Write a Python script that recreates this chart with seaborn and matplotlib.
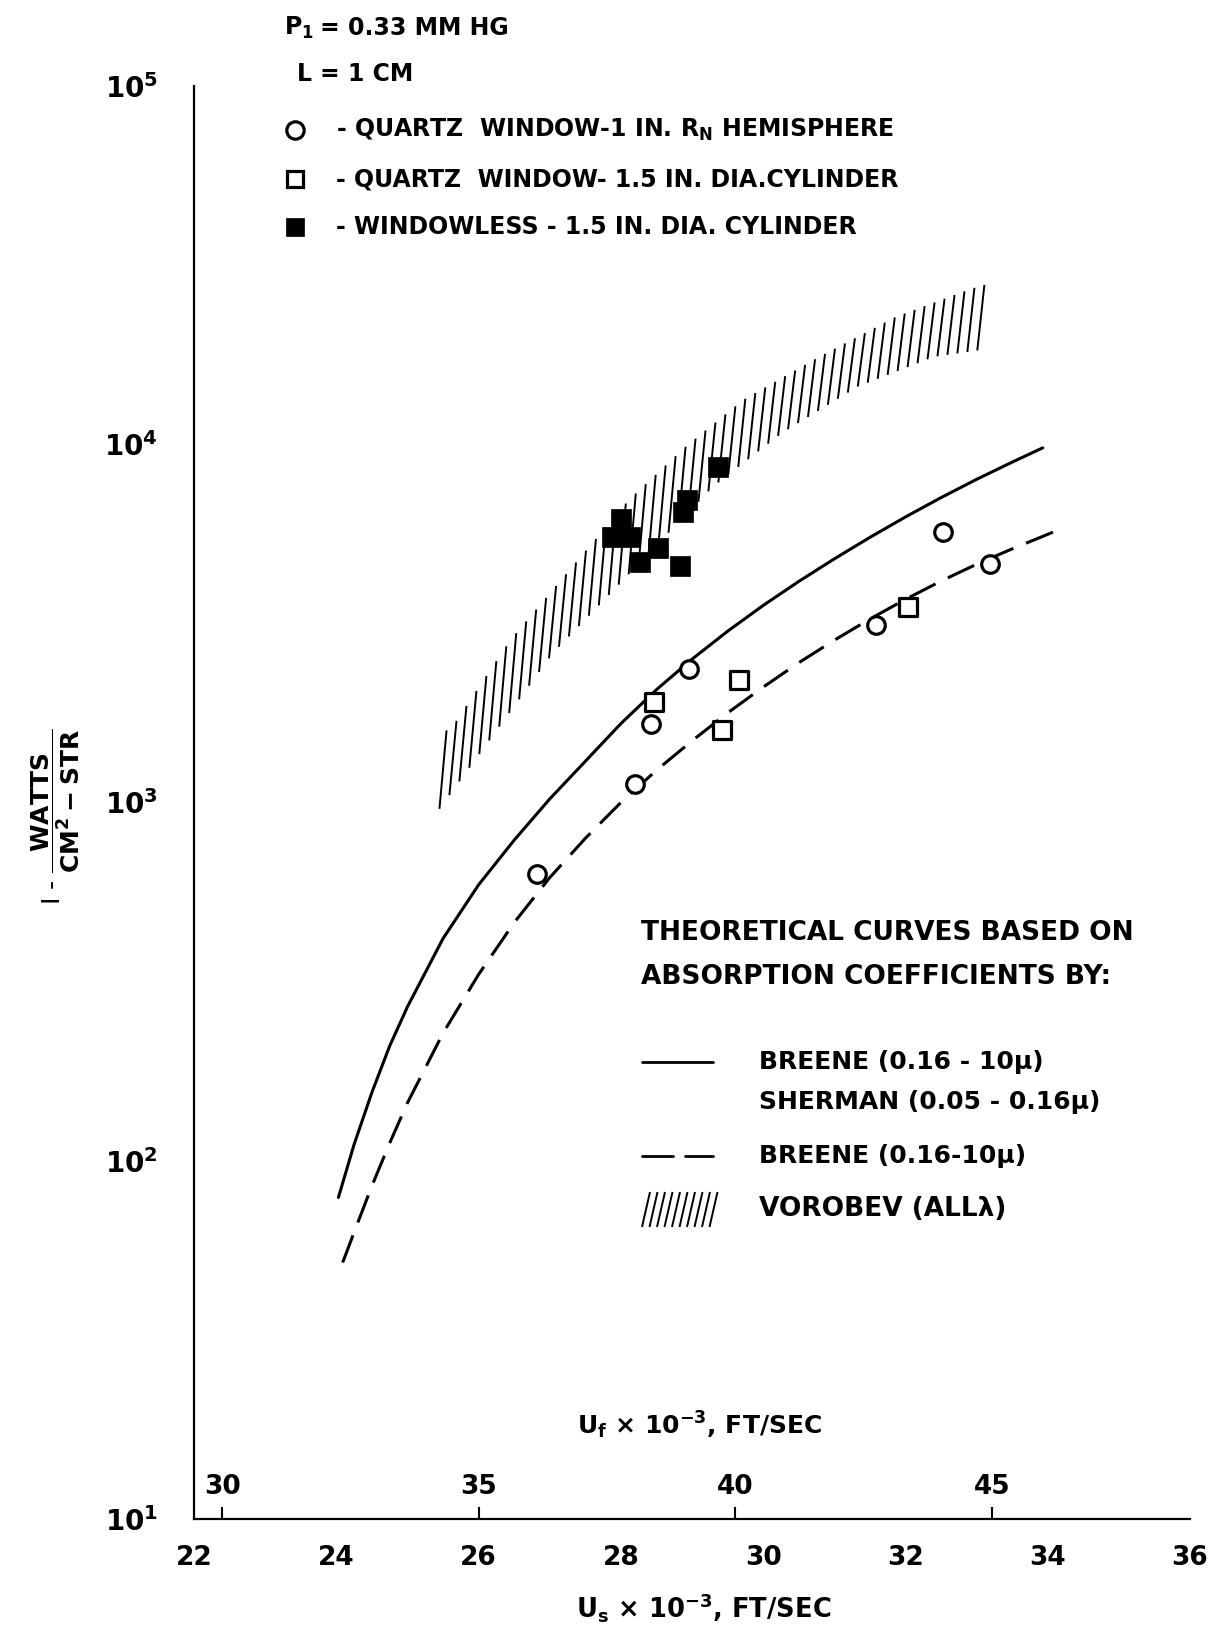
import numpy as np
import matplotlib
matplotlib.use("Agg")
import matplotlib.pyplot as plt
from matplotlib.lines import Line2D
from matplotlib.collections import LineCollection
import seaborn as sns

# ---------------- data ----------------
# Quartz window, 1 in. nose-radius hemisphere (open circles)
hemi_us = [26.82, 28.20, 28.42, 28.96, 31.58, 32.53, 33.19]
hemi_I = [630, 1124, 1654, 2362, 3130, 5700, 4632]

# Quartz window, 1.5 in. dia. cylinder (open squares)
cyl_us = [28.46, 29.42, 29.66, 32.03]
cyl_I = [1910, 1594, 2198, 3506]

# Windowless, 1.5 in. dia. cylinder (filled squares)
wl_us = [27.88, 28.00, 28.13, 28.27, 28.52, 28.83, 28.87, 28.93, 29.36]
wl_I = [5510, 6200, 5510, 4690, 5135, 4570, 6470, 6990, 8640]

# Breene (0.16-10 mu) + Sherman (0.05-0.16 mu), solid curve
solid_us = [24.03, 24.25, 24.5, 24.75, 25.0, 25.5, 26.0, 26.5, 27.0, 27.5,
            28.0, 28.5, 29.0, 29.5, 30.0, 30.5, 31.0, 31.5, 32.0, 32.5,
            33.0, 33.5, 33.93]
solid_I = [79, 111, 155, 209, 269, 417, 589, 785, 1023, 1303,
           1660, 2065, 2512, 3006, 3548, 4140, 4786, 5495, 6266, 7096,
           7980, 8913, 9772]

# Breene (0.16-10 mu) only, dashed curve
dash_us = [24.09, 24.3, 24.5, 24.75, 25.0, 25.5, 26.0, 26.5, 27.0, 27.5,
           28.0, 28.5, 29.0, 29.5, 30.0, 30.5, 31.0, 31.5, 32.0, 32.5,
           33.0, 33.5, 34.08]
dash_I = [52, 67, 85, 112, 145, 227, 331, 462, 617, 794,
          1000, 1230, 1486, 1778, 2099, 2455, 2838, 3251, 3690, 4150,
          4624, 5105, 5689]

# Vorobev (all lambda) band limits
vor_lo_us = [25.45, 27.04, 29.29, 30.26, 31.33, 32.40, 33.05]
vor_lo_I = [960, 2606, 7600, 10740, 14490, 17540, 18320]
vor_hi_us = [25.60, 26.45, 28.11, 28.91, 29.72, 30.79, 31.87, 32.94, 33.15]
vor_hi_I = [1590, 2844, 6980, 9840, 13300, 17540, 22700, 27230, 28000]

# axes ticks
us_ticks = [22, 24, 26, 28, 30, 32, 34, 36]
y_ticks = [1e1, 1e2, 1e3, 1e4, 1e5]
uf_ticks = [30, 35, 40, 45]
uf_at_us = [22.40, 26.00, 29.60, 33.22]

# ---------------- style ----------------
sns.set_style("white")
plt.rcParams["font.family"] = ["DejaVu Sans"]
plt.rcParams["font.weight"] = "bold"
plt.rcParams["text.color"] = "black"
plt.rcParams["axes.labelcolor"] = "black"
plt.rcParams["xtick.color"] = "black"
plt.rcParams["ytick.color"] = "black"
plt.rcParams["mathtext.fontset"] = "custom"
plt.rcParams["mathtext.rm"] = "DejaVu Sans:bold"
plt.rcParams["mathtext.it"] = "DejaVu Sans:bold"
plt.rcParams["mathtext.bf"] = "DejaVu Sans:bold"
plt.rcParams["mathtext.default"] = "rm"

W, H = 1216, 1629
fig = plt.figure(figsize=(W / 100, H / 100), dpi=100)
fig.patch.set_facecolor("white")


def fx(px):
    return px / W


def fy(py):
    return 1 - py / H


ax = fig.add_axes([fx(194), fy(1519), fx(1190) - fx(194), fy(86) - fy(1519)])
ax.set_facecolor("white")
ax.set_yscale("log")

LW = 2.2

# Vorobev band, drawn as slanted strokes between its limits
lo_log = np.log10(vor_lo_I)
hi_log = np.log10(vor_hi_I)
slant = 0.10
xs = np.arange(vor_lo_us[0], vor_hi_us[-1] - slant + 1e-9, 0.14)
segs = []
for x in xs:
    y0 = 10 ** np.interp(x, vor_lo_us, lo_log)
    y1 = 10 ** np.interp(x + slant, vor_hi_us, hi_log)
    segs.append([(x, y0), (x + slant, y1)])
ax.add_collection(LineCollection(segs, colors="black", linewidths=1.4, zorder=2))

# theoretical curves
sns.lineplot(x=solid_us, y=solid_I, ax=ax, color="black", lw=LW,
             estimator=None, sort=False, zorder=3)
sns.lineplot(x=dash_us, y=dash_I, ax=ax, color="black", lw=LW,
             estimator=None, sort=False, linestyle=(0, (9.5, 4.5)), zorder=3)

# measurements
sns.scatterplot(x=hemi_us, y=hemi_I, ax=ax, marker="o", s=160, color="white",
                edgecolor="black", linewidth=2.3, zorder=5)
sns.scatterplot(x=cyl_us, y=cyl_I, ax=ax, marker="s", s=150, color="white",
                edgecolor="black", linewidth=2.3, zorder=5)
sns.scatterplot(x=wl_us, y=wl_I, ax=ax, marker="s", s=190, color="black",
                edgecolor="black", linewidth=0.5, zorder=5)

ax.set_xlim(22, 36)
ax.set_ylim(10, 1e5)
sns.despine(ax=ax)
for s in ("left", "bottom"):
    ax.spines[s].set_linewidth(1.6)
    ax.spines[s].set_color("black")

ax.set_xticks(us_ticks)
ax.set_xticklabels([str(t) for t in us_ticks])
ax.set_yticks(y_ticks)
ax.set_yticklabels([f"$10^{{{int(round(np.log10(v)))}}}$" for v in y_ticks])
ax.yaxis.set_minor_locator(matplotlib.ticker.NullLocator())
ax.tick_params(axis="x", direction="in", length=9, width=1.5, pad=19,
               labelsize=19)
ax.tick_params(axis="y", direction="in", length=10, width=1.5, pad=26,
               labelsize=20)

ax.set_xlabel(r"U$_\mathregular{s}$ × 10$^{-3}$, FT/SEC", fontsize=18.5,
              fontweight="bold", labelpad=14)
ax.xaxis.label.set_x(0.512)
ax.set_ylabel(r"I - $\dfrac{WATTS}{CM^2 - STR}$", fontsize=18)
ax.yaxis.set_label_coords(-0.112, 0.49)

# flow velocity scale sharing the bottom axis line
a, b = np.polyfit(uf_at_us, uf_ticks, 1)
sec = ax.secondary_xaxis(0.0, functions=(lambda u: a * u + b, lambda f: (f - b) / a))
sec.set_alignment("top")
sec.set_xticks(uf_ticks)
sec.set_xticklabels([str(t) for t in uf_ticks])
sec.tick_params(direction="out", length=9, width=1.5, pad=5, labelsize=19,
                colors="black")
sec.spines["top"].set_visible(False)
sec.set_xlabel(r"U$_\mathregular{f}$ × 10$^{-3}$, FT/SEC", fontsize=18,
               fontweight="bold", labelpad=28)
sec.xaxis.label.set_x(0.508)

# ---------------- annotations ----------------
TS = 17
fig.text(fx(284), fy(28), r"P$_1$", fontsize=TS, va="center", ha="left")
fig.text(fx(320), fy(28), "= 0.33 MM HG", fontsize=TS, va="center", ha="left")
fig.text(fx(297), fy(74), "L", fontsize=TS, va="center", ha="left")
fig.text(fx(320), fy(74), "= 1 CM", fontsize=TS, va="center", ha="left")

rows = [
    (130, dict(marker="o", markersize=12.5, markerfacecolor="white",
               markeredgecolor="black", markeredgewidth=2.3),
     r"- QUARTZ  WINDOW-1 IN. R$_\mathregular{N}$ HEMISPHERE"),
    (179, dict(marker="s", markersize=12, markerfacecolor="white",
               markeredgecolor="black", markeredgewidth=2.3),
     "- QUARTZ  WINDOW- 1.5 IN. DIA.CYLINDER"),
    (227, dict(marker="s", markersize=13.5, markerfacecolor="black",
               markeredgecolor="black", markeredgewidth=0.5),
     "- WINDOWLESS - 1.5 IN. DIA. CYLINDER"),
]
for py, mk, label in rows:
    fig.add_artist(Line2D([fx(295)], [fy(py)], transform=fig.transFigure,
                          linestyle="none", **mk))
    fig.text(fx(336), fy(py), label, fontsize=TS, va="center", ha="left")

HS = 19
fig.text(fx(641), fy(933), "THEORETICAL CURVES BASED ON", fontsize=HS,
         va="center", ha="left")
fig.text(fx(641), fy(977), "ABSORPTION COEFFICIENTS BY:", fontsize=HS,
         va="center", ha="left")

ES = 18
fig.add_artist(Line2D([fx(642), fx(713)], [fy(1062), fy(1062)],
                      transform=fig.transFigure, color="black", lw=2.0))
fig.text(fx(759), fy(1062), "BREENE (0.16 - 10μ)", fontsize=ES, va="center", ha="left")
fig.text(fx(759), fy(1102), "SHERMAN (0.05 - 0.16μ)", fontsize=ES, va="center", ha="left")

for x0, x1 in ((642, 673), (685, 713)):
    fig.add_artist(Line2D([fx(x0), fx(x1)], [fy(1156), fy(1156)],
                          transform=fig.transFigure, color="black", lw=2.0))
fig.text(fx(759), fy(1156), "BREENE (0.16-10μ)", fontsize=ES, va="center", ha="left")

sample = []
for px in np.arange(642, 710, 7.5):
    sample.append([(fx(px), fy(1227)), (fx(px + 8), fy(1192))])
fig.add_artist(LineCollection(sample, colors="black", linewidths=1.4,
                              transform=fig.transFigure))
fig.text(fx(759), fy(1209), "VOROBEV (ALLλ)", fontsize=ES + 1, va="center", ha="left")

fig.savefig("out.png", dpi=100, facecolor="white")
